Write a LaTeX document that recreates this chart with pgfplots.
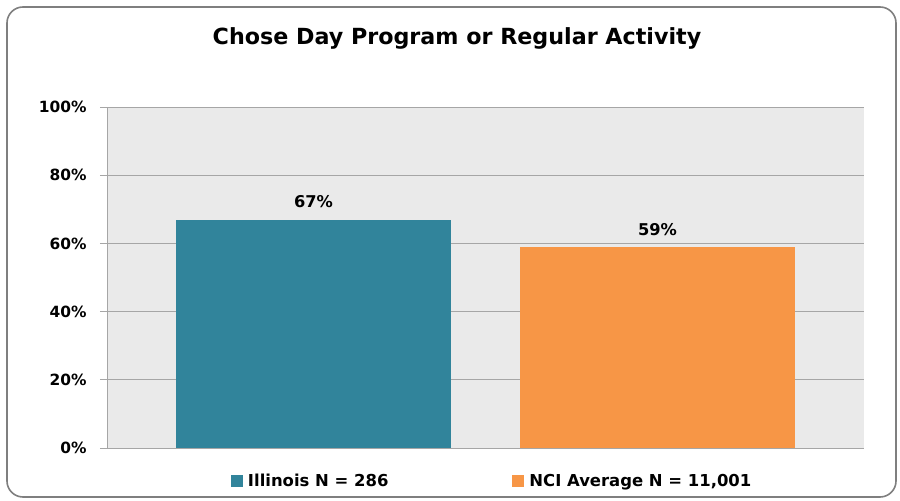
\documentclass[border=0pt]{standalone}
\usepackage{pgfplots}
\pgfplotsset{compat=1.18}
\usepackage{fontspec}
\setmainfont{DejaVu Sans}
\definecolor{teal1}{HTML}{31849B}
\definecolor{orange1}{HTML}{F79646}
\definecolor{bgg}{HTML}{EAEAEA}
\definecolor{gridg}{HTML}{A6A6A6}
\definecolor{frameg}{HTML}{7F7F7F}
\begin{document}
\begin{tikzpicture}[x=1bp,y=1bp]
\useasboundingbox (-107,-53) rectangle (793,448);
\draw[frameg, line width=1.6bp, rounded corners=16bp] (-100,-49) rectangle (789,441);
\node[font=\bfseries\fontsize{22.3}{26}\selectfont] at (350,410) {Chose Day Program or Regular Activity};
\begin{axis}[
  at={(0,0)}, anchor=south west,
  scale only axis, width=757bp, height=341bp,
  xmin=-0.6, xmax=1.6, ymin=0, ymax=100,
  axis background/.style={fill=bgg},
  axis line style={gridg},
  axis x line*=bottom, axis y line*=left,
  xtick=\empty,
  ytick={0,20,40,60,80,100},
  yticklabel={\pgfmathprintnumber{\tick}\%},
  /pgf/number format/assume math mode=true,
  yticklabel style={font=\bfseries\fontsize{15.5}{18}\selectfont, xshift=-10bp},
  ymajorgrids, grid style={gridg, line width=0.8bp},
  major tick length=7bp,
  tick style={gridg, line width=0.8bp},
  ytick pos=left,
  tick align=outside,
  ybar, bar width=275bp, bar shift=0pt,
  nodes near coords={\pgfmathprintnumber{\pgfplotspointmeta}\%},
  nodes near coords style={font=\bfseries\fontsize{16.3}{19}\selectfont, black, yshift=8bp},
  legend style={at={(124/757,-33/341)}, anchor=west, draw=none, fill=none,
    legend columns=2, font=\bfseries\fontsize{16.5}{19}\selectfont,
    inner sep=0pt, outer sep=0pt,
    nodes={inner sep=1bp},
    /tikz/every odd column/.append style={column sep=4bp},
    /tikz/every even column/.append style={column sep=123bp}},
  legend image code/.code={\fill[#1] (0bp,-6bp) rectangle (12bp,6bp);},
]
\addplot[fill=teal1, draw=none] coordinates {(0,67)};
\addlegendentry{Illinois N = 286}
\addplot[fill=orange1, draw=none] coordinates {(1,59)};
\addlegendentry{NCI Average N = 11,001}
\end{axis}
\end{tikzpicture}
\end{document}
